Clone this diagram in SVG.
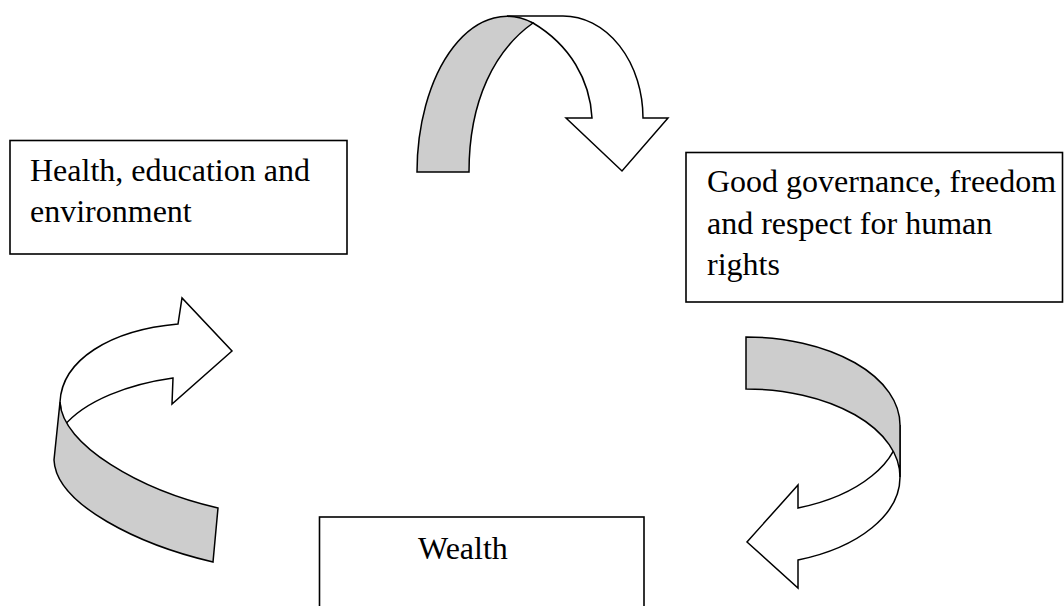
<svg xmlns="http://www.w3.org/2000/svg" width="1064" height="606" viewBox="0 0 1064 606">
<style>
.box{fill:#fff;stroke:#000;stroke-width:1.6}
.lbl{font-family:"Liberation Serif","Times New Roman",serif;font-size:32px;fill:#000}
.w{fill:#fff;stroke:#000;stroke-width:1.5;stroke-linejoin:miter}
.g{fill:#cdcdcd;stroke:#000;stroke-width:1.5;stroke-linejoin:miter}
</style>
<rect width="1064" height="606" fill="#fff"/>
<g id="node-health">
<rect class="box" x="10" y="140.5" width="337" height="113.5"/>
<text class="lbl" x="30" y="181">Health, education and</text>
<text class="lbl" x="30" y="222">environment</text>
</g>
<g id="node-governance">
<rect class="box" x="686" y="152.5" width="376.5" height="149.5"/>
<text class="lbl" x="707" y="192">Good governance, freedom</text>
<text class="lbl" x="707" y="233.5">and respect for human</text>
<text class="lbl" x="707" y="275">rights</text>
</g>
<g id="node-wealth">
<rect class="box" x="319.5" y="517" width="324.5" height="110"/>
<text class="lbl" x="418" y="559">Wealth</text>
</g>
<g id="connectors">
<g id="arrow-top">
<path class="w" d="M507,16 L563,16 A80,102 0 0 1 643,118 L668,118 L622,171 L566,118 L592,118 C590,80 570,45 533,23 Z"/>
<path class="g" d="M417,172 A90,156 0 0 1 533,23 C495,50 469,100 469,172 Z"/>
</g>
<g id="arrow-right">
<path class="w" d="M900,425 A154,88 0 0 1 798,508 L798,485 L747,542 L798,588 L798,560 A154,88 0 0 0 900,477 Z"/>
<path class="g" d="M746,337 A154,88 0 0 1 900,425 L900,477 A154,88 0 0 0 746,389 Z"/>
</g>
<g id="arrow-left">
<path class="w" d="M60,402 C62,360 110,330 178,324 L182,298 L232,351 L172,404 L173,378 C130,384 85,400 63,427 Z"/>
<path class="g" d="M218,508 L213,562 C140,545 56,505 54,460 L60,402 C62,445 140,490 218,508 Z"/>
</g>
</g>
</svg>
